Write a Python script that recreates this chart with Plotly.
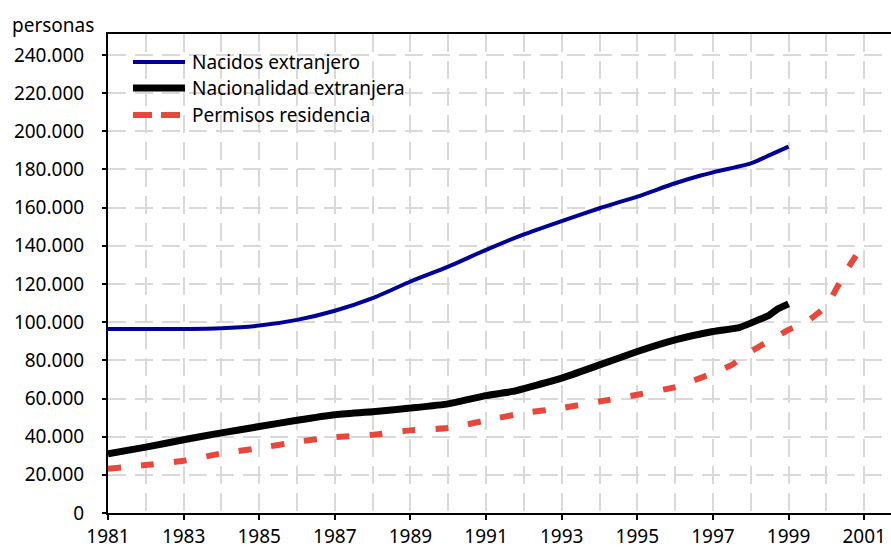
import plotly.graph_objects as go

# series: foreign-born, foreign nationality, residence permits
nacidos_anio = [1981, 1982, 1983, 1984, 1985, 1986, 1987, 1988, 1989, 1990,
                1991, 1992, 1993, 1994, 1995, 1996, 1996.7, 1997, 1998, 1998.5, 1999]
nacidos_valor = [96400, 96400, 96400, 96800, 98200, 101200, 106000, 112600, 121300, 129100,
                 137900, 146000, 153000, 159700, 165800, 172800, 177000, 178500, 183200, 187500, 192000]

nacionalidad_anio = [1981, 1982, 1983, 1984, 1985, 1986, 1987, 1988, 1989, 1990,
                     1991, 1991.7, 1993, 1994, 1995, 1996, 1997, 1997.7, 1998, 1998.5, 1998.7, 1999]
nacionalidad_valor = [31000, 34500, 38400, 42000, 45300, 48600, 51500, 53000, 55000, 57200,
                      61500, 63700, 70700, 77600, 84600, 90700, 95100, 97200, 99500, 103800, 106800, 109600]

permisos_anio = [1981, 1982, 1983, 1984, 1985, 1986, 1987, 1988, 1989, 1990,
                 1991, 1992, 1993, 1994, 1995, 1996, 1997, 1997.5, 1998, 1998.5,
                 1999, 1999.5, 2000, 2000.5, 2001]
permisos_valor = [23200, 25100, 27400, 31200, 34000, 37300, 39800, 41000, 43300, 44500,
                  48500, 52400, 55000, 58400, 62000, 66000, 73300, 77600, 84600, 90400,
                  96000, 100500, 108500, 126000, 141500]

nombres = ["Nacidos extranjero", "Nacionalidad extranjera", "Permisos residencia"]
colores = ["#000096", "#000000", "#E8473B"]

FUENTE = "Noto Sans"

fig = go.Figure()
fig.add_trace(go.Scatter(x=nacidos_anio, y=nacidos_valor, mode="lines", name=nombres[0],
                         line=dict(color=colores[0], width=4, shape="spline", smoothing=0.6),
                         showlegend=False))
fig.add_trace(go.Scatter(x=nacionalidad_anio, y=nacionalidad_valor, mode="lines", name=nombres[1],
                         line=dict(color=colores[1], width=7, shape="spline", smoothing=0.4),
                         showlegend=False))
fig.add_trace(go.Scatter(x=permisos_anio, y=permisos_valor, mode="lines", name=nombres[2],
                         line=dict(color=colores[2], width=6, dash="13px,20px",
                                   shape="spline", smoothing=0.4),
                         showlegend=False))

# hand-made legend (longer line samples than plotly's own)
leyenda_y = [1 - 28 / 479, 1 - 54 / 479, 1 - 81 / 479]
leyenda_dash = ["solid", "solid", "19px,9px"]
leyenda_ancho = [4, 7, 6]
x0 = 25 / 783
x1 = 77 / 783
for nombre, color, yy, dsh, w in zip(nombres, colores, leyenda_y, leyenda_dash, leyenda_ancho):
    fig.add_shape(type="line", xref="paper", yref="paper", x0=x0, x1=x1, y0=yy, y1=yy,
                  line=dict(color=color, width=w, dash=dsh))
    fig.add_annotation(text=nombre, xref="paper", yref="paper", x=82 / 783, y=yy,
                       xanchor="left", yanchor="middle", showarrow=False,
                       font=dict(family=FUENTE, size=19, color="#000"))

fig.add_annotation(text="personas", xref="paper", yref="paper", x=-98 / 783, y=1 + 9 / 479,
                   xanchor="left", yanchor="middle", showarrow=False,
                   font=dict(family=FUENTE, size=19, color="#000"))

grid = dict(gridcolor="#D9D9D9", gridwidth=2, griddash="18px,9px")

fig.update_layout(
    width=891, height=548,
    margin=dict(l=108, r=0, t=34, b=35, autoexpand=False),
    paper_bgcolor="white", plot_bgcolor="white",
    separators=",.",
    font=dict(family=FUENTE, size=19, color="#000"),
    xaxis=dict(range=[1981, 2001.71], tick0=1981, dtick=2, showgrid=True, **grid,
               minor=dict(dtick=1, tick0=1981, showgrid=True, **grid),
               showline=True, linecolor="#000", linewidth=2, mirror=True,
               ticks="outside", ticklen=5, tickwidth=2, tickcolor="#000",
               zeroline=False, automargin=False),
    yaxis=dict(range=[0, 251000], tick0=0, dtick=20000, tickformat=",d", showgrid=True, **grid,
               showline=True, linecolor="#000", linewidth=2,
               ticks="outside", ticklen=4, tickwidth=2, tickcolor="#000",
               ticklabelstandoff=14, zeroline=False, automargin=False),
)

# the page body has a default 8px margin; drop it so the figure fills the window
fig.write_html("out.html", config={"displayModeBar": False},
               post_script="document.body.style.margin='0';")
